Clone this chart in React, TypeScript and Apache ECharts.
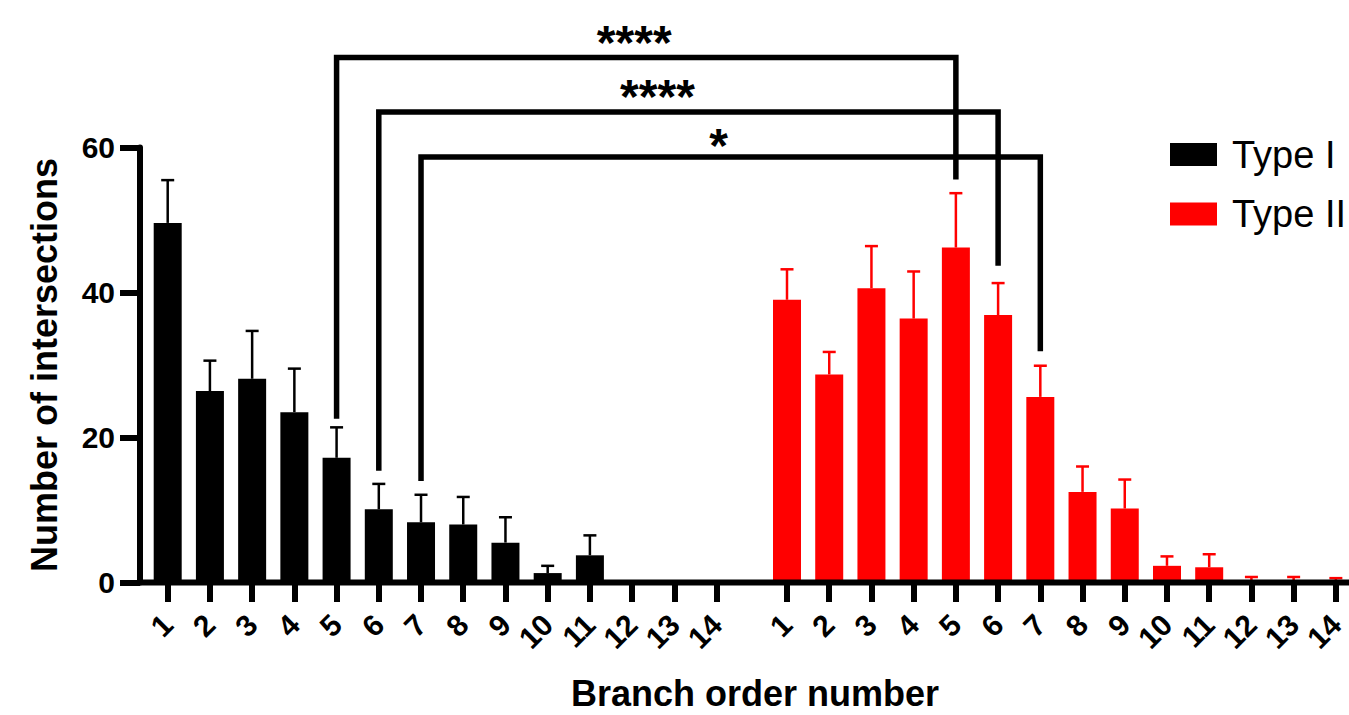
import React, { useEffect, useRef } from "react";
import * as echarts from "echarts";

// ---- data ----
const categories = ["1", "2", "3", "4", "5", "6", "7", "8", "9", "10", "11", "12", "13", "14"];
const seriesNames = ["Type I", "Type II"];
const typeIMean = [49.6, 26.4, 28.1, 23.5, 17.2, 10.1, 8.3, 8.0, 5.5, 1.3, 3.75, 0, 0, 0];
const typeISD = [5.9, 4.2, 6.6, 6.0, 4.2, 3.5, 3.8, 3.8, 3.5, 1.0, 2.75, 0, 0, 0];
const typeIIMean = [39.0, 28.7, 40.6, 36.4, 46.2, 36.9, 25.6, 12.5, 10.2, 2.3, 2.1, 0.1, 0.1, 0.05];
const typeIISD = [4.2, 3.1, 5.8, 6.5, 7.5, 4.4, 4.3, 3.5, 4.0, 1.3, 1.8, 0.66, 0.66, 0.55];
const yTicks = { min: 0, max: 60, interval: 20 };

// significance brackets (category index in each group, heights in data units)
const bracketLeftCat = [4, 5, 6];
const bracketRightCat = [4, 5, 6];
const bracketTop = [72.4, 64.9, 58.7];
const bracketLeftEnd = [22.6, 15.4, 14.0];
const bracketRightEnd = [55.6, 43.7, 31.9];
const bracketStars = ["****", "****", "*"];

// ---- layout ----
const W = 1349;
const H = 715;
const BAND = 42.22;
const G0_LEFT = 167.7 - BAND / 2;
const G1_LEFT = 787 - BAND / 2;
const G_WIDTH = BAND * 14;
const G_TOP = 147.5;
const G_HEIGHT = 435;
const Y_AXIS_X = 140;
const AXIS_W = 6;
const FONT = "'Liberation Sans', Arial, Helvetica, sans-serif";
const starOffsetX = [-12, -31, -12];
const starOffsetY = [15.5, 15.3, 11];

function errorRenderer(color: string) {
  return (params: any, api: any) => {
    const i = api.value(0);
    const m = api.value(1);
    const s = api.value(2);
    if (!(s > 0)) return null;
    const p0 = api.coord([i, m]);
    const p1 = api.coord([i, m + s]);
    return {
      type: "group",
      children: [
        { type: "line", shape: { x1: p0[0], y1: p0[1], x2: p1[0], y2: p1[1] }, style: { stroke: color, lineWidth: 2.5 } },
        { type: "line", shape: { x1: p1[0] - 6.5, y1: p1[1], x2: p1[0] + 6.5, y2: p1[1] }, style: { stroke: color, lineWidth: 2.5 } },
      ],
    };
  };
}

export default function App() {
  const ref = useRef<HTMLDivElement>(null);

  useEffect(() => {
    if (!ref.current) return;
    const chart = echarts.init(ref.current, null, { renderer: "svg" });

    const xAxisCommon = {
      type: "category",
      data: categories,
      axisLine: { show: false },
      axisTick: { show: true, alignWithLabel: true, interval: 0, length: 19.5, lineStyle: { color: "#000", width: AXIS_W } },
      axisLabel: { interval: 0, rotate: 45, margin: 37, color: "#000", fontSize: 30, fontWeight: "bold", fontFamily: FONT },
      splitLine: { show: false },
    };

    const option: any = {
      animation: false,
      backgroundColor: "#fff",
      grid: [
        { left: G0_LEFT, top: G_TOP, width: G_WIDTH, height: G_HEIGHT, outerBoundsMode: "none" },
        { left: G1_LEFT, top: G_TOP, width: G_WIDTH, height: G_HEIGHT, outerBoundsMode: "none" },
      ],
      xAxis: [
        { ...xAxisCommon, gridIndex: 0 },
        { ...xAxisCommon, gridIndex: 1 },
      ],
      yAxis: [
        {
          gridIndex: 0,
          type: "value",
          min: yTicks.min,
          max: yTicks.max,
          interval: yTicks.interval,
          offset: G0_LEFT - Y_AXIS_X,
          axisLine: { show: true, lineStyle: { color: "#000", width: AXIS_W } },
          axisTick: { show: true, length: 20, lineStyle: { color: "#000", width: AXIS_W } },
          axisLabel: { margin: 25, color: "#000", fontSize: 30, fontWeight: "bold", fontFamily: FONT },
          splitLine: { show: false },
          name: "Number of intersections",
          nameLocation: "middle",
          nameGap: 78,
          nameTextStyle: { color: "#000", fontSize: 36, fontWeight: "bold", fontFamily: FONT },
        },
        {
          gridIndex: 1,
          type: "value",
          min: yTicks.min,
          max: yTicks.max,
          interval: yTicks.interval,
          show: false,
          splitLine: { show: false },
        },
      ],
      legend: {
        data: seriesNames,
        orient: "vertical",
        left: 1170,
        top: 135.5,
        padding: 0,
        icon: "rect",
        itemWidth: 47,
        itemHeight: 23,
        itemGap: 21.5,
        textStyle: { color: "#000", fontSize: 38, fontFamily: FONT, padding: [0, 0, 0, 10] },
      },
      series: [
        {
          name: seriesNames[0],
          type: "bar",
          xAxisIndex: 0,
          yAxisIndex: 0,
          barWidth: 28,
          itemStyle: { color: "#000" },
          data: typeIMean,
          z: 2,
        },
        {
          name: seriesNames[1],
          type: "bar",
          xAxisIndex: 1,
          yAxisIndex: 1,
          barWidth: 28,
          itemStyle: { color: "#ff0000" },
          data: typeIIMean,
          z: 2,
        },
        {
          name: "errI",
          type: "custom",
          xAxisIndex: 0,
          yAxisIndex: 0,
          renderItem: errorRenderer("#000"),
          data: typeIMean.map((m, i) => [i, m, typeISD[i]]),
          z: 3,
        },
        {
          name: "errII",
          type: "custom",
          xAxisIndex: 1,
          yAxisIndex: 1,
          renderItem: errorRenderer("#ff0000"),
          data: typeIIMean.map((m, i) => [i, m, typeIISD[i]]),
          z: 3,
        },
      ],
    };

    chart.setOption(option);

    const px = (g: number, cat: number, val: number) =>
      chart.convertToPixel({ xAxisIndex: g, yAxisIndex: g }, [cat, val]) as number[];

    const y0 = px(0, 0, 0)[1];
    const graphics: any[] = [
      {
        type: "line",
        z: 10,
        shape: { x1: Y_AXIS_X - AXIS_W / 2, y1: y0, x2: W, y2: y0 },
        style: { stroke: "#000", lineWidth: AXIS_W },
      },
      {
        type: "text",
        z: 10,
        x: 755,
        y: 693.5,
        style: {
          text: "Branch order number",
          fill: "#000",
          fontSize: 36,
          fontWeight: "bold",
          fontFamily: FONT,
          align: "center",
          verticalAlign: "middle",
        },
      },
    ];

    bracketTop.forEach((top, k) => {
      const lb = px(0, bracketLeftCat[k], bracketLeftEnd[k]);
      const lt = px(0, bracketLeftCat[k], top);
      const rt = px(1, bracketRightCat[k], top);
      const rb = px(1, bracketRightCat[k], bracketRightEnd[k]);
      graphics.push({
        type: "polyline",
        z: 11,
        shape: { points: [lb, lt, rt, rb] },
        style: { stroke: "#000", lineWidth: 5.5, fill: null, lineJoin: "miter", lineCap: "butt" },
      });
      graphics.push({
        type: "text",
        z: 11,
        x: (lt[0] + rt[0]) / 2 + starOffsetX[k],
        y: lt[1] - starOffsetY[k],
        style: {
          text: bracketStars[k],
          fill: "#000",
          fontSize: 48,
          fontWeight: "bold",
          fontFamily: FONT,
          align: "center",
          verticalAlign: "middle",
        },
      });
    });

    chart.setOption({ graphic: graphics });

    return () => chart.dispose();
  }, []);

  return (
    <div
      ref={ref}
      style={{ position: "fixed", left: 0, top: 0, width: W, height: H, background: "#fff" }}
    />
  );
}
